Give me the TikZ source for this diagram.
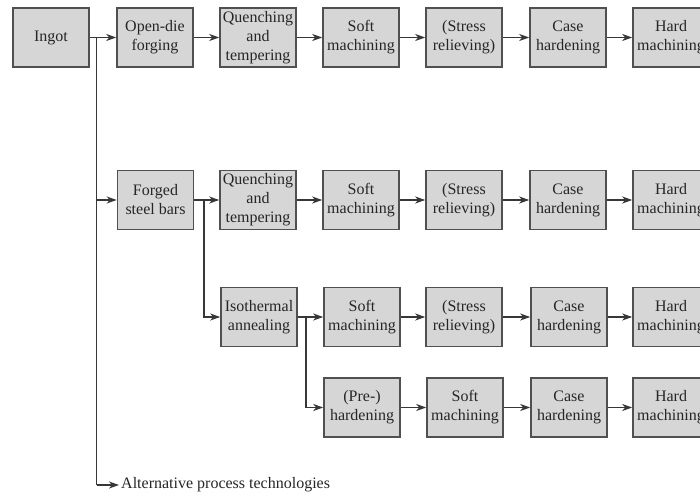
\documentclass[tikz,border=0pt]{standalone}
\usepackage{fontspec}
\setmainfont{Liberation Serif}
\usetikzlibrary{arrows.meta}
\definecolor{boxfill}{RGB}{214,214,214}
\definecolor{boxline}{RGB}{80,80,80}
\definecolor{conn}{RGB}{55,55,55}
\tikzset{
  procbox/.style={draw=boxline, fill=boxfill, line width=1.6pt, minimum width=76pt, minimum height=59pt, inner sep=0pt, align=center, font=\fontsize{16}{19}\selectfont, text=black!85},
  flow/.style={draw=conn, line width=1.4pt, -{Stealth[length=10pt,width=7pt,inset=3pt]}},
  plain/.style={draw=conn, line width=1.4pt},
}
\begin{document}
\begin{tikzpicture}[x=1pt,y=-1pt]
\clip (0,0) rectangle (700,494);
\fill[white] (0,0) rectangle (700,494);
% Row 1
\node[procbox] (ingot) at (51,37.5) {Ingot};
\node[procbox] (open) at (155,37.5) {Open-die\\forging};
\node[procbox] (q1) at (258,37.5) {Quenching\\and\\tempering};
\node[procbox] (s1) at (361,37.5) {Soft\\machining};
\node[procbox] (r1) at (464,37.5) {(Stress\\relieving)};
\node[procbox] (c1) at (568,37.5) {Case\\hardening};
\node[procbox] (h1) at (671,37.5) {Hard\\machining};
% Row 2
\node[procbox] (forged) at (155.5,200) {Forged\\steel bars};
\node[procbox] (q2) at (258,200) {Quenching\\and\\tempering};
\node[procbox] (s2) at (361,200) {Soft\\machining};
\node[procbox] (r2) at (464,200) {(Stress\\relieving)};
\node[procbox] (c2) at (568,200) {Case\\hardening};
\node[procbox] (h2) at (671,200) {Hard\\machining};
% Row 3
\node[procbox] (iso) at (259,317) {Isothermal\\annealing};
\node[procbox] (s3) at (362,317) {Soft\\machining};
\node[procbox] (r3) at (464,317) {(Stress\\relieving)};
\node[procbox] (c3) at (569,317) {Case\\hardening};
\node[procbox] (h3) at (671,317) {Hard\\machining};
% Row 4
\node[procbox] (pre) at (362,407.5) {(Pre-)\\hardening};
\node[procbox] (s4) at (465,407.5) {Soft\\machining};
\node[procbox] (c4) at (569,407.5) {Case\\hardening};
\node[procbox] (h4) at (671,407.5) {Hard\\machining};
% Alternative
\node[anchor=west, inner sep=0pt, font=\fontsize{16}{19}\selectfont, text=black!85] (alt) at (121,485) {Alternative process technologies};
% junction coordinates
\coordinate (j1) at (96.5,37.5);
\coordinate (j2) at (96.5,200);
\coordinate (j3) at (96.5,485);
\coordinate (k1) at (204,200);
\coordinate (k2) at (204,317);
\coordinate (m1) at (306,317);
\coordinate (m2) at (306,407.5);
% connectors row 1
\draw[flow] (ingot) -- (open);
\draw[flow] (open) -- (q1);
\draw[flow] (q1) -- (s1);
\draw[flow] (s1) -- (r1);
\draw[flow] (r1) -- (c1);
\draw[flow] (c1) -- (h1);
% main trunk
\draw[plain] (j1) -- (j3);
\draw[flow] (j2) -- (forged);
\draw[flow] (j3) -- ([xshift=-2pt]alt.west);
% row 2
\draw[flow] (forged) -- (q2);
\draw[flow] (q2) -- (s2);
\draw[flow] (s2) -- (r2);
\draw[flow] (r2) -- (c2);
\draw[flow] (c2) -- (h2);
\draw[flow] (k1) -- (k2) -- (iso);
% row 3
\draw[flow] (iso) -- (s3);
\draw[flow] (s3) -- (r3);
\draw[flow] (r3) -- (c3);
\draw[flow] (c3) -- (h3);
\draw[flow] (m1) -- (m2) -- (pre);
% row 4
\draw[flow] (pre) -- (s4);
\draw[flow] (s4) -- (c4);
\draw[flow] (c4) -- (h4);
\end{tikzpicture}
\end{document}
